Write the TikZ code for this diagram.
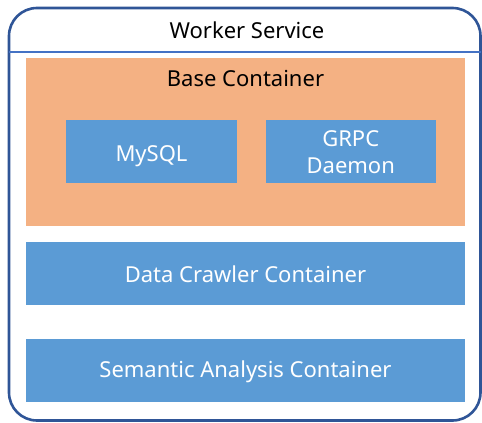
\documentclass[tikz,border=0pt]{standalone}
\usepackage{fontspec}
\setmainfont{Noto Sans}
\definecolor{frameblue}{HTML}{2F5597}
\definecolor{lineblue}{HTML}{4472C4}
\definecolor{boxblue}{HTML}{5B9BD5}
\definecolor{baseorange}{HTML}{F4B183}
\begin{document}
\begin{tikzpicture}[x=1pt,y=-1pt,
  bluebox/.style={fill=boxblue,draw=none,text=white,font=\fontsize{22}{27}\selectfont,align=center},
  label/.style={text=black,font=\fontsize{22}{27}\selectfont}]
\useasboundingbox (0,0) rectangle (482,423);
% outer service frame
\draw[frameblue,line width=2.6pt,rounded corners=28pt] (9,8) rectangle (480.5,420.5);
\coordinate (hl) at (9,52);
\coordinate (hr) at (480.5,52);
\draw[lineblue,line width=2.8pt] (hl) -- (hr);
\node[label,anchor=base] (ws) at (247,38.5) {Worker Service};
% base container
\fill[baseorange] (26,58) rectangle (465,226);
\node[label,anchor=base] (bc) at (245.5,86) {Base Container};
\fill[boxblue] (66,120) rectangle (237,183);
\node[bluebox,anchor=base] (mysql) at (151.5,161) {MySQL};
\fill[boxblue] (265.5,120) rectangle (436,183);
\node[bluebox] (grpc) at (350.75,152) {GRPC\\Daemon};
% other containers
\fill[boxblue] (26,242) rectangle (465,305);
\node[bluebox,anchor=base] (crawler) at (245.5,282.5) {Data Crawler Container};
\fill[boxblue] (26,339) rectangle (465,402);
\node[bluebox,anchor=base] (semantic) at (245.5,377) {Semantic Analysis Container};
\end{tikzpicture}
\end{document}
